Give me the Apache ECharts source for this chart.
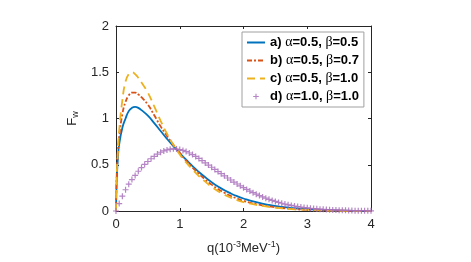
<!DOCTYPE html>
<html>
<head>
<meta charset="utf-8">
<script src="https://cdn.jsdelivr.net/npm/echarts@6/dist/echarts.min.js"></script>
<style>html,body{margin:0;padding:0;background:#fff;}#c{width:471px;height:262px;}</style>
</head>
<body>
<div id="c"></div>
<script>
// ---- data ----
const seriesNames = ['a) α=0.5, β=0.5', 'b) α=0.5, β=0.7', 'c) α=0.5, β=1.0', 'd) α=1.0, β=1.0'];
const xTicks = [0, 1, 2, 3, 4];
const yTicks = [0, 0.5, 1, 1.5, 2];

const qLine = [0, 0.01, 0.03, 0.05, 0.1, 0.15, 0.2, 0.25, 0.3, 0.35, 0.4, 0.5, 0.6, 0.7, 0.8, 0.9, 1.0, 1.1, 1.2, 1.3, 1.4, 1.5, 1.6, 1.7, 1.8, 1.9, 2.0, 2.2, 2.4, 2.6, 2.8, 3.0, 3.2, 3.5, 4.0];
const fA = [0, 0.3, 0.58, 0.72, 0.9, 1.0, 1.08, 1.115, 1.125, 1.115, 1.09, 1.03, 0.95, 0.865, 0.78, 0.70, 0.625, 0.555, 0.485, 0.422, 0.365, 0.312, 0.265, 0.225, 0.19, 0.16, 0.135, 0.095, 0.065, 0.044, 0.03, 0.02, 0.012, 0.005, 0.001];
const fB = [0, 0.35, 0.65, 0.8, 1.05, 1.18, 1.25, 1.28, 1.28, 1.26, 1.23, 1.15, 1.035, 0.915, 0.81, 0.715, 0.628, 0.545, 0.47, 0.402, 0.34, 0.285, 0.238, 0.198, 0.163, 0.134, 0.11, 0.074, 0.05, 0.032, 0.02, 0.012, 0.007, 0.003, 0.001];
const fC = [0, 0.35, 0.65, 0.87, 1.2, 1.4, 1.48, 1.5, 1.48, 1.44, 1.39, 1.28, 1.13, 0.975, 0.835, 0.715, 0.612, 0.525, 0.448, 0.378, 0.317, 0.262, 0.215, 0.176, 0.144, 0.118, 0.097, 0.066, 0.044, 0.029, 0.019, 0.012, 0.007, 0.003, 0.001];

const qMark = [0, 0.05, 0.1, 0.15, 0.2, 0.25, 0.3, 0.35, 0.4, 0.45, 0.5, 0.55, 0.6, 0.65, 0.7, 0.75, 0.8, 0.85, 0.9, 0.95,
  1.0, 1.05, 1.1, 1.15, 1.2, 1.25, 1.3, 1.35, 1.4, 1.45, 1.5, 1.55, 1.6, 1.65, 1.7, 1.75, 1.8, 1.85, 1.9, 1.95,
  2.0, 2.05, 2.1, 2.15, 2.2, 2.25, 2.3, 2.35, 2.4, 2.45, 2.5, 2.55, 2.6, 2.65, 2.7, 2.75, 2.8, 2.85, 2.9, 2.95,
  3.0, 3.05, 3.1, 3.15, 3.2, 3.25, 3.3, 3.35, 3.4, 3.45, 3.5, 3.55, 3.6, 3.65, 3.7, 3.75, 3.8, 3.85, 3.9, 3.95, 4.0];
const fD = [0, 0.08, 0.16, 0.23, 0.29, 0.34, 0.385, 0.43, 0.47, 0.505, 0.535, 0.565, 0.59, 0.615, 0.635, 0.65, 0.66, 0.668, 0.672, 0.67,
  0.665, 0.655, 0.642, 0.627, 0.61, 0.59, 0.568, 0.545, 0.52, 0.497, 0.473, 0.45, 0.426, 0.403, 0.38, 0.357, 0.335, 0.313, 0.292, 0.272,
  0.252, 0.233, 0.215, 0.198, 0.182, 0.167, 0.152, 0.139, 0.126, 0.114, 0.103, 0.093, 0.084, 0.075, 0.067, 0.06, 0.054, 0.048, 0.043, 0.038,
  0.034, 0.03, 0.026, 0.023, 0.02, 0.018, 0.016, 0.014, 0.012, 0.01, 0.009, 0.008, 0.007, 0.006, 0.005, 0.004, 0.004, 0.003, 0.003, 0.002, 0.002];

// ---- chart ----
const pair = (xs, ys) => xs.map((x, i) => [x, ys[i]]);
const axisColor = '#262626';
const font = 'Liberation Sans, Arial, Helvetica, sans-serif';
const plusPath = 'path://M4,0H6V4H10V6H6V10H4V6H0V4H4Z';

function boxAxis(pos, isX) {
  return {
    type: 'value', position: pos, min: isX ? xTicks[0] : yTicks[0], max: isX ? xTicks[xTicks.length-1] : yTicks[yTicks.length-1],
    interval: isX ? 1 : 0.5,
    axisLine: {show: true, onZero: false, lineStyle: {color: axisColor, width: 1}},
    axisTick: {show: true, inside: true, length: 3, lineStyle: {color: axisColor}},
    axisLabel: {show: false}, splitLine: {show: false}
  };
}

const chart = echarts.init(document.getElementById('c'), null, {renderer: 'canvas'});
chart.setOption({
  animation: false,
  backgroundColor: '#fff',
  grid: {left: 116, right: 100, top: 26, bottom: 51, containLabel: false},
  xAxis: [{
    type: 'value', min: 0, max: 4, interval: 1, position: 'bottom',
    name: 'q(10{sup|-3}MeV{sup|-1})', nameLocation: 'middle', nameGap: 29,
    nameTextStyle: {color: axisColor, fontSize: 13, fontFamily: font,
      rich: {sup: {fontSize: 9, fontFamily: font, color: axisColor, padding: [0, 0, 8, 0]}}},
    axisLine: {show: true, onZero: false, lineStyle: {color: axisColor, width: 1}},
    axisTick: {show: true, inside: true, length: 3, lineStyle: {color: axisColor}},
    axisLabel: {color: axisColor, fontSize: 13, fontFamily: font, margin: 7},
    splitLine: {show: false}
  }, boxAxis('top', true)],
  yAxis: [{
    type: 'value', min: 0, max: 2, interval: 0.5, position: 'left',
    name: 'F{sub|w}', nameLocation: 'middle', nameGap: 24, nameRotate: 90,
    nameTextStyle: {color: axisColor, fontSize: 13, fontFamily: font,
      rich: {sub: {fontSize: 9, fontFamily: font, color: axisColor, padding: [6, 0, 0, 0]}}},
    axisLine: {show: true, onZero: false, lineStyle: {color: axisColor, width: 1}},
    axisTick: {show: true, inside: true, length: 3, lineStyle: {color: axisColor}},
    axisLabel: {color: axisColor, fontSize: 13, fontFamily: font, margin: 7},
    splitLine: {show: false}
  }, boxAxis('right', false)],
  legend: {
    orient: 'vertical', left: 242, top: 32,
    backgroundColor: '#fff', borderColor: '#a0a0a0', borderWidth: 1, borderRadius: 0,
    padding: [3, 5, 3, 4], itemGap: 3, itemWidth: 18, itemHeight: 7,
    data: [
      {name: seriesNames[0], itemStyle: {opacity: 0}},
      {name: seriesNames[1], itemStyle: {opacity: 0}},
      {name: seriesNames[2], itemStyle: {opacity: 0}},
      {name: seriesNames[3]}
    ],
    formatter: (n) => n.replace('α', '{g|α}').replace('β', '{g|β}'),
    textStyle: {color: '#000', fontSize: 13, fontWeight: 'bold', fontFamily: font, lineHeight: 15,
      rich: {g: {fontFamily: 'Liberation Serif, DejaVu Serif, serif', fontSize: 14, fontWeight: 'normal', color: '#000', lineHeight: 15}}}
  },
  series: [
    {name: seriesNames[0], type: 'line', data: pair(qLine, fA), showSymbol: false, symbol: 'none',
     smooth: 0.5, color: '#0072BD', lineStyle: {color: '#0072BD', width: 1.8, type: 'solid'}},
    {name: seriesNames[1], type: 'line', data: pair(qLine, fB), showSymbol: false, symbol: 'none',
     smooth: 0.5, color: '#D95319', lineStyle: {color: '#D95319', width: 1.8, type: [5, 2, 2, 2]}},
    {name: seriesNames[2], type: 'line', data: pair(qLine, fC), showSymbol: false, symbol: 'none',
     smooth: 0.5, color: '#EDB120', lineStyle: {color: '#EDB120', width: 1.8, type: [8, 5]}},
    {name: seriesNames[3], type: 'line', data: pair(qMark, fD), showSymbol: true, showAllSymbol: true,
     symbol: plusPath, symbolSize: 6, color: '#A870BC',
     itemStyle: {color: '#A870BC', opacity: 0.85},
     lineStyle: {width: 0, opacity: 0}}
  ]
});
</script>
</body>
</html>
